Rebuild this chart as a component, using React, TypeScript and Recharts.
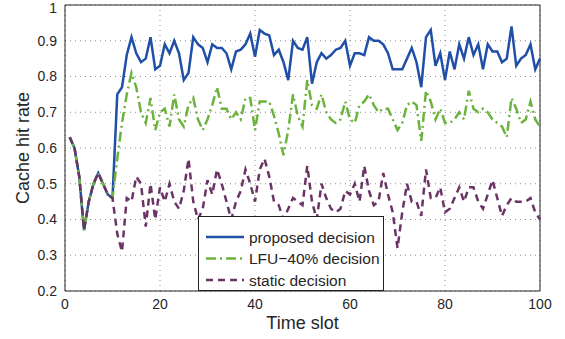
import React from 'react';
import { LineChart, Line, XAxis, YAxis, CartesianGrid, Legend, ReferenceLine, Label } from 'recharts';

const timeSlots: number[] = Array.from({ length: 100 }, (_, i) => i + 1);

const proposed: number[] = [
  0.63, 0.60, 0.52, 0.37, 0.45, 0.50, 0.53, 0.50, 0.47, 0.46,
  0.75, 0.77, 0.86, 0.91, 0.865, 0.84, 0.85, 0.91, 0.82, 0.83,
  0.89, 0.865, 0.90, 0.865, 0.79, 0.81, 0.91, 0.89, 0.88, 0.84,
  0.89, 0.88, 0.88, 0.865, 0.82, 0.87, 0.875, 0.89, 0.92, 0.855,
  0.93, 0.92, 0.915, 0.86, 0.875, 0.84, 0.79, 0.90, 0.88, 0.875,
  0.91, 0.78, 0.84, 0.865, 0.85, 0.86, 0.875, 0.88, 0.90, 0.83,
  0.865, 0.865, 0.86, 0.91, 0.90, 0.90, 0.89, 0.865, 0.82, 0.82,
  0.82, 0.85, 0.88, 0.84, 0.77, 0.91, 0.93, 0.83, 0.865, 0.79,
  0.87, 0.82, 0.89, 0.85, 0.91, 0.86, 0.89, 0.82, 0.89, 0.87,
  0.87, 0.84, 0.85, 0.94, 0.83, 0.85, 0.86, 0.89, 0.82, 0.85,
];

const lfu40: number[] = [
  0.63, 0.60, 0.52, 0.37, 0.45, 0.50, 0.53, 0.50, 0.47, 0.46,
  0.57, 0.67, 0.75, 0.81, 0.77, 0.70, 0.67, 0.74, 0.65, 0.70,
  0.71, 0.66, 0.75, 0.68, 0.66, 0.72, 0.74, 0.68, 0.65, 0.68,
  0.72, 0.77, 0.71, 0.71, 0.68, 0.70, 0.68, 0.74, 0.74, 0.65,
  0.73, 0.73, 0.73, 0.69, 0.64, 0.58, 0.65, 0.75, 0.69, 0.66,
  0.79, 0.72, 0.71, 0.75, 0.70, 0.68, 0.67, 0.68, 0.73, 0.68,
  0.67, 0.72, 0.73, 0.75, 0.72, 0.70, 0.71, 0.71, 0.68, 0.65,
  0.67, 0.72, 0.73, 0.72, 0.62, 0.76, 0.73, 0.68, 0.71, 0.67,
  0.67, 0.68, 0.70, 0.68, 0.76, 0.71, 0.70, 0.71, 0.70, 0.68,
  0.67, 0.66, 0.63, 0.74, 0.71, 0.67, 0.68, 0.73, 0.68, 0.66,
];

const staticDecision: number[] = [
  0.63, 0.60, 0.52, 0.37, 0.45, 0.50, 0.53, 0.50, 0.47, 0.46,
  0.36, 0.31, 0.46, 0.45, 0.52, 0.50, 0.38, 0.50, 0.40, 0.49,
  0.45, 0.50, 0.45, 0.43, 0.48, 0.57, 0.45, 0.40, 0.43, 0.51,
  0.47, 0.54, 0.50, 0.45, 0.40, 0.45, 0.48, 0.54, 0.50, 0.45,
  0.54, 0.57, 0.52, 0.45, 0.44, 0.40, 0.43, 0.46, 0.45, 0.44,
  0.55, 0.45, 0.40, 0.50, 0.46, 0.43, 0.42, 0.43, 0.48, 0.47,
  0.50, 0.45, 0.55, 0.48, 0.44, 0.45, 0.53, 0.47, 0.42, 0.32,
  0.42, 0.50, 0.45, 0.45, 0.41, 0.54, 0.46, 0.46, 0.49, 0.42,
  0.43, 0.46, 0.49, 0.45, 0.49, 0.49, 0.45, 0.43, 0.47, 0.51,
  0.46, 0.41, 0.44, 0.46, 0.45, 0.45, 0.45, 0.46, 0.42, 0.40,
];

const xTicks: number[] = [0, 20, 40, 60, 80, 100];
const yTicks: number[] = [0.2, 0.3, 0.4, 0.5, 0.6, 0.7, 0.8, 0.9, 1];

const seriesKeys = ['proposed', 'lfu', 'stat'];
const seriesNames = ['proposed decision', 'LFU\u221240% decision', 'static decision'];

const data = timeSlots.map((t, i) => ({
  t,
  proposed: proposed[i],
  lfu: lfu40[i],
  stat: staticDecision[i],
}));

const FONT = '"Liberation Sans", Arial, Helvetica, sans-serif';
const TEXT = '#262626';
const BLUE = '#1F4FA6';
const GREEN = '#6CB33E';
const PURPLE = '#6B3466';

const styles: Record<string, { color: string; dash?: string }> = {
  proposed: { color: BLUE },
  lfu: { color: GREEN, dash: '10 4 2 4' },
  stat: { color: PURPLE, dash: '7 5' },
};

const LegendBox = (props: any) => {
  const payload = [...(props.payload || [])].sort(
    (a: any, b: any) => seriesKeys.indexOf(a.dataKey) - seriesKeys.indexOf(b.dataKey)
  );
  return (
    <svg width={186} height={75} style={{ display: 'block' }}>
      <rect x={0.5} y={0.5} width={185} height={74} fill="#fff" stroke="#222" strokeWidth={1} />
      {payload.map((p: any, i: number) => {
        const s = styles[p.dataKey] || { color: p.color };
        const cy = 21 + i * 21.5;
        return (
          <g key={i}>
            <line x1={8} x2={46} y1={cy} y2={cy} stroke={s.color} strokeWidth={2.5} strokeDasharray={s.dash} />
            <text x={51} y={cy} dy="0.36em" fontSize={15.5} fontFamily={FONT} fill={TEXT}>
              {p.value}
            </text>
          </g>
        );
      })}
    </svg>
  );
};

export default function App() {
  return (
    <div style={{ position: 'absolute', left: 0, top: 0, background: '#fff' }}>
      <LineChart width={565} height={339} data={data} margin={{ top: 5, right: 25, bottom: 0, left: 0 }}>
        <CartesianGrid stroke="#8a8a8a" strokeDasharray="1 4" strokeWidth={1} />
        <XAxis
          dataKey="t"
          type="number"
          domain={[0, 100]}
          ticks={xTicks}
          height={48}
          tickLine={false}
          axisLine={{ stroke: '#222', strokeWidth: 1 }}
          tick={{ fill: TEXT, fontSize: 14, fontFamily: FONT }}
        >
          <Label value="Time slot" position="center" dy={8} style={{ fill: TEXT, fontSize: 18, fontFamily: FONT }} />
        </XAxis>
        <YAxis
          type="number"
          domain={[0.2, 1]}
          ticks={yTicks}
          width={65}
          tickLine={false}
          allowDataOverflow
          axisLine={{ stroke: '#222', strokeWidth: 1 }}
          tick={{ fill: TEXT, fontSize: 14, fontFamily: FONT }}
        >
          <Label value="Cache hit rate" angle={-90} position="center" dx={-10} style={{ fill: TEXT, fontSize: 18, fontFamily: FONT, textAnchor: 'middle' }} />
        </YAxis>
        <ReferenceLine y={1} stroke="#222" strokeWidth={1} />
        <ReferenceLine x={100} stroke="#222" strokeWidth={1} />
        <Line type="linear" dataKey="proposed" name={seriesNames[0]} stroke={BLUE} strokeWidth={2.5} dot={false} isAnimationActive={false} />
        <Line type="linear" dataKey="lfu" name={seriesNames[1]} stroke={GREEN} strokeWidth={2.5} strokeDasharray="10 4 2 4" dot={false} isAnimationActive={false} />
        <Line type="linear" dataKey="stat" name={seriesNames[2]} stroke={PURPLE} strokeWidth={2.5} strokeDasharray="7 5" dot={false} isAnimationActive={false} />
        <Legend
          layout="vertical"
          align="center"
          verticalAlign="middle"
          content={LegendBox}
          wrapperStyle={{ left: 198, top: 216, width: 186, height: 75, margin: 0, padding: 0 }}
        />
      </LineChart>
    </div>
  );
}
